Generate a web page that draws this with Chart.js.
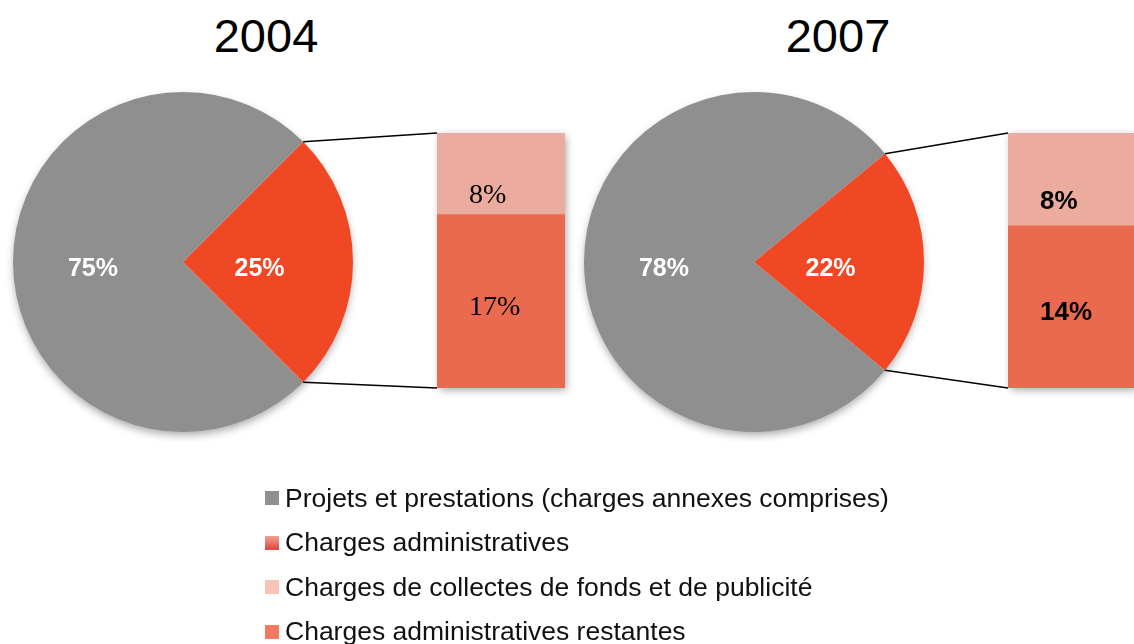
<!DOCTYPE html>
<html>
<head>
<meta charset="utf-8">
<script src="https://cdn.jsdelivr.net/npm/chart.js@4.4.1/dist/chart.umd.min.js"></script>
<style>
  body { margin: 0; background: #fff; }
  #wrap { position: relative; width: 1134px; height: 644px; overflow: hidden; font-family: "Liberation Sans", Arial, sans-serif; }
  #wrap canvas { position: absolute; }
  .title { position: absolute; top: 12px; width: 200px; text-align: center; font-size: 47px; line-height: 47px; color: #000; }
  #legend { position: absolute; left: 265px; top: 476px; }
  .item { height: 44.5px; display: flex; align-items: center; font-size: 26.5px; color: #111; white-space: nowrap; }
  .sw { width: 14px; height: 14px; margin-right: 6px; }
</style>
</head>
<body>
<div id="wrap">
  <div class="title" id="t0" style="left:166px"></div>
  <div class="title" id="t1" style="left:738px"></div>

  <canvas id="pie2004" width="360" height="360" style="left:3px;top:82px"></canvas>
  <canvas id="bar2004" width="148" height="275" style="left:427px;top:123px"></canvas>
  <canvas id="pie2007" width="360" height="360" style="left:574px;top:82px"></canvas>
  <canvas id="bar2007" width="148" height="275" style="left:998px;top:123px"></canvas>
  <canvas id="links" width="1134" height="644" style="left:0;top:0;pointer-events:none"></canvas>

  <div id="legend"></div>
</div>

<script>
const years = ['2004', '2007'];
const pieLabels = ['Projets et prestations (charges annexes comprises)', 'Charges administratives'];
const pie2004 = [75, 25];
const pie2007 = [78, 22];
const barLabels = ['Charges administratives restantes', 'Charges de collectes de fonds et de publicité'];
const bar2004 = [17, 8];
const bar2007 = [14, 8];

const GRAY = '#8f8f8f';
const RED = '#f04725';
const DARK = '#ea6a50';
const LIGHT = '#ebab9e';

// soft shadow behind the whole pie / whole bar
const shadowPlugin = {
    id: 'shadow',
    beforeDatasetsDraw(chart) {
        const ctx = chart.ctx;
        const els = chart.getDatasetMeta(0).data;
        ctx.save();
        ctx.shadowColor = 'rgba(0,0,0,0.35)';
        ctx.shadowBlur = 8;
        ctx.fillStyle = '#fff';
        if (chart.config.type === 'pie') {
            const a = els[0];
            ctx.shadowOffsetY = 4;
            ctx.beginPath();
            ctx.arc(a.x, a.y, a.outerRadius - 1, 0, Math.PI * 2);
            ctx.fill();
        } else {
            const bottom = els[0];
            const top = chart.getDatasetMeta(chart.data.datasets.length - 1).data[0];
            ctx.shadowOffsetX = 2;
            ctx.shadowOffsetY = 3;
            ctx.fillRect(bottom.x - bottom.width / 2 + 1, top.y, bottom.width - 2, bottom.base - top.y - 1);
        }
        ctx.restore();
    }
};

const pieValueLabels = {
    id: 'pieValueLabels',
    afterDatasetsDraw(chart) {
        const ctx = chart.ctx;
        const ds = chart.data.datasets[0];
        ctx.save();
        ctx.fillStyle = '#fff';
        ctx.font = 'bold 25px "Liberation Sans", Arial, sans-serif';
        ctx.textAlign = 'center';
        ctx.textBaseline = 'middle';
        chart.getDatasetMeta(0).data.forEach((arc, i) => {
            const mid = (arc.startAngle + arc.endAngle) / 2;
            const r = arc.outerRadius * ds.labelRadius[i];
            ctx.fillText(ds.data[i] + '%', arc.x + Math.cos(mid) * r, arc.y + Math.sin(mid) * r + 7);
        });
        ctx.restore();
    }
};

const barValueLabels = {
    id: 'barValueLabels',
    afterDatasetsDraw(chart) {
        const ctx = chart.ctx;
        ctx.save();
        ctx.fillStyle = '#000';
        ctx.textAlign = 'left';
        ctx.textBaseline = 'middle';
        chart.data.datasets.forEach((ds, i) => {
            const bar = chart.getDatasetMeta(i).data[0];
            ctx.font = ds.labelFont;
            ctx.fillText(ds.data[0] + '%', bar.x - bar.width / 2 + 32, (bar.y + bar.base) / 2 + ds.labelDy);
        });
        ctx.restore();
    }
};

function makePie(id, values) {
    const frac = values[1] / (values[0] + values[1]);
    return new Chart(document.getElementById(id), {
        type: 'pie',
        data: {
            labels: pieLabels,
            datasets: [{
                data: values,
                backgroundColor: [GRAY, RED],
                borderWidth: 0,
                labelRadius: [0.53, 0.45]
            }]
        },
        options: {
            responsive: false,
            animation: false,
            rotation: 90 + 180 * frac, // centre the small slice on the right
            layout: { padding: 10 },
            plugins: { legend: { display: false }, tooltip: { enabled: false } }
        },
        plugins: [shadowPlugin, pieValueLabels]
    });
}

function makeBar(id, values, font) {
    return new Chart(document.getElementById(id), {
        type: 'bar',
        data: {
            labels: [''],
            datasets: [
                { label: barLabels[0], data: [values[0]], backgroundColor: DARK, labelFont: font, labelDy: 6 },
                { label: barLabels[1], data: [values[1]], backgroundColor: LIGHT, labelFont: font, labelDy: 22 }
            ]
        },
        options: {
            responsive: false,
            animation: false,
            layout: { padding: 10 },
            datasets: { bar: { barPercentage: 1, categoryPercentage: 1, borderWidth: 0 } },
            scales: {
                x: { stacked: true, display: false },
                y: { stacked: true, display: false, min: 0, max: values[0] + values[1] }
            },
            plugins: { legend: { display: false }, tooltip: { enabled: false } }
        },
        plugins: [shadowPlugin, barValueLabels]
    });
}

const pies = [makePie('pie2004', pie2004), makePie('pie2007', pie2007)];
const bars = [
    makeBar('bar2004', bar2004, '28px "Liberation Serif", "Times New Roman", serif'),
    makeBar('bar2007', bar2007, 'bold 26px "Liberation Sans", Arial, sans-serif')
];

years.forEach((y, i) => { document.getElementById('t' + i).textContent = y; });

// connector lines from the small slice to the stacked bar
const lctx = document.getElementById('links').getContext('2d');
lctx.strokeStyle = '#000';
lctx.lineWidth = 1.5;
pies.forEach((pie, i) => {
    const arc = pie.getDatasetMeta(0).data[1];
    const pc = pie.canvas, bc = bars[i].canvas;
    const px = pc.offsetLeft, py = pc.offsetTop;
    const topBar = bars[i].getDatasetMeta(1).data[0];
    const botBar = bars[i].getDatasetMeta(0).data[0];
    const left = bc.offsetLeft + topBar.x - topBar.width / 2;
    lctx.beginPath();
    lctx.moveTo(px + arc.x + Math.cos(arc.startAngle) * arc.outerRadius, py + arc.y + Math.sin(arc.startAngle) * arc.outerRadius);
    lctx.lineTo(left, bc.offsetTop + topBar.y);
    lctx.moveTo(px + arc.x + Math.cos(arc.endAngle) * arc.outerRadius, py + arc.y + Math.sin(arc.endAngle) * arc.outerRadius);
    lctx.lineTo(left, bc.offsetTop + botBar.base);
    lctx.stroke();
});

// legend
const legendItems = [
    { text: pieLabels[0], bg: GRAY },
    { text: pieLabels[1], bg: 'linear-gradient(to bottom, #f3a096, #d9473b)' },
    { text: barLabels[1], bg: '#f9c2b6' },
    { text: barLabels[0], bg: '#f47b63' }
];
const legend = document.getElementById('legend');
legendItems.forEach(it => {
    const row = document.createElement('div');
    row.className = 'item';
    const sw = document.createElement('span');
    sw.className = 'sw';
    sw.style.background = it.bg;
    row.appendChild(sw);
    row.appendChild(document.createTextNode(it.text));
    legend.appendChild(row);
});
</script>
</body>
</html>
